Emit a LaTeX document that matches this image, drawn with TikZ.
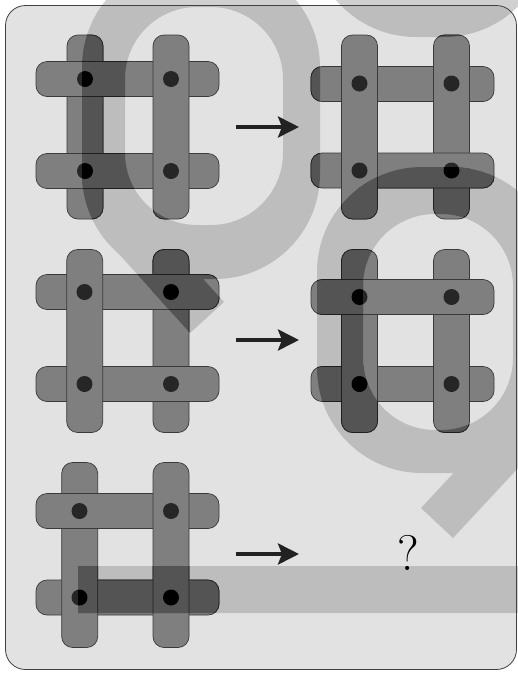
\documentclass[tikz,border=0pt]{standalone}
\usetikzlibrary{arrows.meta}
\definecolor{bgc}{HTML}{E2E2E2}
\definecolor{wmc}{HTML}{BDBDBD}
\definecolor{wmout}{HTML}{D0D0D0}
\definecolor{bfill}{HTML}{7F7F7F}
\definecolor{bline}{HTML}{3A3A3A}
\definecolor{dfill}{HTML}{262626}
\definecolor{arrc}{HTML}{222222}
\tikzset{
  bar/.style={fill=bfill, draw=bline, line width=0.7pt, rounded corners=11pt},
  dotmark/.style={fill=dfill},
  arr/.style={draw=arrc, line width=4pt, -{Stealth[length=21pt,width=21pt,inset=4pt]}},
  frame/.style={draw=black!75, line width=0.8pt, rounded corners=20pt}
}
\newcommand\vb[3]{\path[bar] ({#1-18},#2) rectangle ({#1+18},#3);}
\newcommand\hb[3]{\path[bar] (#2,{#1-17.5}) rectangle (#3,{#1+17.5});}
\newcommand\dt[2]{\fill[dotmark] (#1,#2) circle[radius=8pt];}
\newcommand\drawpanels{%
  % panel 1
  \vb{85}{35}{219}\hb{79}{36}{219}\hb{171}{36}{219}\vb{171}{35}{219}
  \dt{85}{79}\dt{171}{79}\dt{85}{171}\dt{171}{171}
  % panel 2
  \hb{84}{311}{494}\vb{451.5}{35}{219}\hb{170.5}{311}{494}\vb{359.5}{35}{219}
  \dt{359.5}{83.5}\dt{451.5}{83.5}\dt{359.5}{170.5}\dt{451.5}{170.5}
  % panel 3
  \vb{171}{249.5}{432.5}\hb{292}{36}{219}\hb{384}{36}{219}\vb{84.7}{249.5}{432.5}
  \dt{84.5}{292}\dt{171}{292}\dt{84.5}{384}\dt{171}{384}
  % panel 4
  \hb{384}{311}{494}\vb{359.5}{249.5}{432.5}\vb{451.5}{249.5}{432.5}\hb{297}{311}{494}
  \dt{359.5}{297}\dt{451.5}{297}\dt{359.5}{384}\dt{451.5}{384}
  % panel 5
  \hb{597.5}{36}{219}\vb{79.7}{462.5}{647.5}\hb{511}{36}{219}\vb{171}{462.5}{647.5}
  \dt{79.5}{511}\dt{171}{511}\dt{79.5}{597.5}\dt{171}{597.5}
}
\newcommand\wmrings{[rounded corners=105pt] (82,-38) rectangle (320,279)
  [rounded corners=72pt] (125,7) rectangle (283,225)
  [rounded corners=105pt] (317,167) rectangle (556,473)
  [rounded corners=72pt] (363,214) rectangle (513,430)
  [rounded corners=105pt] (311,-280) rectangle (549,37)
  [sharp corners] (78,566) rectangle (540,613)}
\newcommand\wmtails{[sharp corners] (190,333) -- (110,244) -- (144,214) -- (224,302) -- cycle
  (421,508) -- (516,406) -- (548,436) -- (453,538) -- cycle}
\begin{document}
\begin{tikzpicture}[x=1pt,y=-1pt]
\useasboundingbox (0,0) rectangle (518,673);
\fill[white] (0,0) rectangle (518,673);
% watermark on the white margin
\fill[wmout, even odd rule] \wmrings;
\fill[wmout] \wmtails;
\fill[bgc, rounded corners=20pt] (5.5,5.5) rectangle (516.5,669.5);
% watermark on the panel background
\begin{scope}[rounded corners=20pt]
  \clip (5.5,5.5) rectangle (516.5,669.5);
  \begin{scope}[sharp corners]
    \fill[wmc, even odd rule] \wmrings;
    \fill[wmc] \wmtails;
  \end{scope}
\end{scope}
\path[frame] (5.5,5.5) rectangle (516.5,669.5);
% puzzle grids
\drawpanels
% watermark darkening the grids
\begin{scope}[even odd rule]
  \clip \wmrings;
  \colorlet{bfill}{black!67}\colorlet{bline}{black!88}\colorlet{dfill}{black}
  \drawpanels
\end{scope}
\begin{scope}
  \clip \wmtails;
  \colorlet{bfill}{black!67}\colorlet{bline}{black!88}\colorlet{dfill}{black}
  \drawpanels
\end{scope}
% arrows
\coordinate (a1s) at (236,127); \coordinate (a1e) at (299,127);
\coordinate (a2s) at (236,340); \coordinate (a2e) at (299,340);
\coordinate (a3s) at (236,554); \coordinate (a3e) at (299,554);
\draw[arr] (a1s) -- (a1e);
\draw[arr] (a2s) -- (a2e);
\draw[arr] (a3s) -- (a3e);
\node[anchor=base, inner sep=0pt, font=\fontsize{50}{50}\selectfont] (q) at (408,570.5) {?};
\end{tikzpicture}
\end{document}
